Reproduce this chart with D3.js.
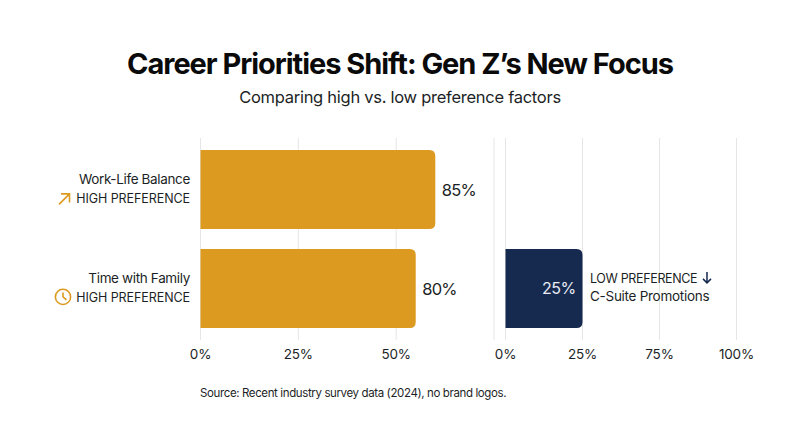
<!DOCTYPE html>
<html>
<head>
<meta charset="utf-8">
<script src="https://cdn.jsdelivr.net/npm/d3@7"></script>
<style>
  html, body { margin: 0; padding: 0; background: #fff; }
  text { font-family: Inter, "Noto Sans", sans-serif; fill: #1c1f26; }
</style>
</head>
<body>
<svg id="chart" width="800" height="447"></svg>
<script>
// data
const categories = ["Work-Life Balance", "Time with Family"];
const highValues = [60, 55]; // drawn bar lengths on the left axis
const highLabels = ["85%", "80%"];
const highTag = "HIGH PREFERENCE";
const leftTicks = [0, 25, 50, 75];
const leftTickLabels = ["0%", "25%", "50%", ""];

const lowCategory = ["Time with Family"];
const lowName = "C-Suite Promotions";
const lowTag = "LOW PREFERENCE";
const lowValue = ["25%"];
const rightTicks = ["0%", "25%", "75%", "100%"];

const svg = d3.select("#chart");
const gold = "#dc9a20";
const navy = "#16294f";
const gridColor = "#e6e6e6";

// title
svg.append("text")
  .attr("x", 400).attr("y", 74)
  .attr("text-anchor", "middle")
  .style("font-size", "29px").style("font-weight", 700).style("letter-spacing", "-1.04px")
  .style("fill", "#0a0a0a")
  .text("Career Priorities Shift: Gen Z’s New Focus");

svg.append("text")
  .attr("x", 400).attr("y", 103)
  .attr("text-anchor", "middle")
  .style("font-size", "16.5px").style("letter-spacing", "-0.27px")
  .text("Comparing high vs. low preference factors");

// scales
const y = d3.scaleBand().domain(categories).range([140, 338]).paddingInner(0.2).paddingOuter(0.1);
const xLeft = d3.scaleLinear().domain([0, 75]).range([200.5, 494]);
const xRight = d3.scalePoint().domain(rightTicks).range([505.5, 736.5]);

// bar with rounded right corners only
function barPath(x0, x1, y0, h, r) {
  const p = d3.path();
  p.moveTo(x0, y0);
  p.lineTo(x1 - r, y0);
  p.quadraticCurveTo(x1, y0, x1, y0 + r);
  p.lineTo(x1, y0 + h - r);
  p.quadraticCurveTo(x1, y0 + h, x1 - r, y0 + h);
  p.lineTo(x0, y0 + h);
  p.closePath();
  return p.toString();
}

// gridlines
svg.append("g").selectAll("line").data(leftTicks).enter().append("line")
  .attr("x1", d => xLeft(d)).attr("x2", d => xLeft(d))
  .attr("y1", 138).attr("y2", 340)
  .attr("stroke", gridColor);
svg.append("g").selectAll("line").data(rightTicks).enter().append("line")
  .attr("x1", d => xRight(d)).attr("x2", d => xRight(d))
  .attr("y1", 138).attr("y2", 340)
  .attr("stroke", gridColor);

// tick labels
svg.append("g").selectAll("text").data(leftTicks).enter().append("text")
  .attr("x", d => xLeft(d)).attr("y", 359)
  .attr("text-anchor", "middle")
  .style("font-size", "13.5px").style("letter-spacing", "-0.2px")
  .text((d, i) => leftTickLabels[i]);
svg.append("g").selectAll("text").data(rightTicks).enter().append("text")
  .attr("x", d => xRight(d)).attr("y", 359)
  .attr("text-anchor", "middle")
  .style("font-size", "13.5px").style("letter-spacing", "-0.2px")
  .text(d => d);

// high preference bars
svg.append("g").selectAll("path").data(categories).enter().append("path")
  .attr("d", (d, i) => barPath(xLeft(0), xLeft(highValues[i]), y(d), y.bandwidth(), 6))
  .attr("fill", gold);

svg.append("g").selectAll("text").data(categories).enter().append("text")
  .attr("x", (d, i) => xLeft(highValues[i]) + 6.5)
  .attr("y", d => y(d) + y.bandwidth() / 2 + 6)
  .style("font-size", "16.5px").style("letter-spacing", "-0.8px")
  .text((d, i) => highLabels[i]);

// left labels
svg.append("g").selectAll("text").data(categories).enter().append("text")
  .attr("x", 190)
  .attr("y", d => y(d) + 34)
  .attr("text-anchor", "end")
  .style("font-size", "13.5px").style("letter-spacing", "-0.35px")
  .text(d => d);

svg.append("g").selectAll("text").data(categories).enter().append("text")
  .attr("x", 190)
  .attr("y", d => y(d) + 53)
  .attr("text-anchor", "end")
  .style("font-size", "12.5px").style("letter-spacing", "-0.07px")
  .text(highTag);

// icons next to the tags
const arrowIcon = svg.append("g")
  .attr("transform", `translate(58.5,${y(categories[0]) + 43})`)
  .attr("fill", "none").attr("stroke", gold).attr("stroke-width", 1.6);
arrowIcon.append("path").attr("d", "M0.5 11.5L11 1M2.5 1H11V9.5");

const clockIcon = svg.append("g")
  .attr("transform", `translate(63,${y(categories[1]) + 48})`)
  .attr("fill", "none").attr("stroke", gold).attr("stroke-width", 1.6);
clockIcon.append("circle").attr("r", 7.6);
clockIcon.append("path").attr("d", "M0 -4.5V0L3.5 3");

// low preference bar
svg.append("g").selectAll("path").data(lowCategory).enter().append("path")
  .attr("d", d => barPath(xRight("0%"), xRight(lowValue[0]), y(d), y.bandwidth(), 6))
  .attr("fill", navy);

svg.append("g").selectAll("text").data(lowCategory).enter().append("text")
  .attr("x", xRight(lowValue[0]) - 7)
  .attr("y", d => y(d) + y.bandwidth() / 2 + 5)
  .attr("text-anchor", "end")
  .style("font-size", "16px").style("letter-spacing", "-0.6px")
  .style("fill", "#e8ecf3")
  .text(lowValue[0]);

svg.append("text")
  .attr("x", xRight(lowValue[0]) + 7.5)
  .attr("y", y(lowCategory[0]) + 34)
  .style("font-size", "12.5px").style("letter-spacing", "-0.35px")
  .text(lowTag);

const downArrow = svg.append("g")
  .attr("transform", `translate(707,${y(lowCategory[0]) + 23})`)
  .attr("fill", "none").attr("stroke", navy).attr("stroke-width", 1.5);
downArrow.append("path").attr("d", "M0 0V11M-4 7L0 11L4 7");

svg.append("text")
  .attr("x", xRight(lowValue[0]) + 7.5)
  .attr("y", y(lowCategory[0]) + 52)
  .style("font-size", "13.5px").style("letter-spacing", "-0.28px")
  .text(lowName);

// source
svg.append("text")
  .attr("x", 200).attr("y", 397)
  .style("font-size", "11.5px").style("letter-spacing", "-0.38px")
  .text("Source: Recent industry survey data (2024), no brand logos.");
</script>
</body>
</html>
